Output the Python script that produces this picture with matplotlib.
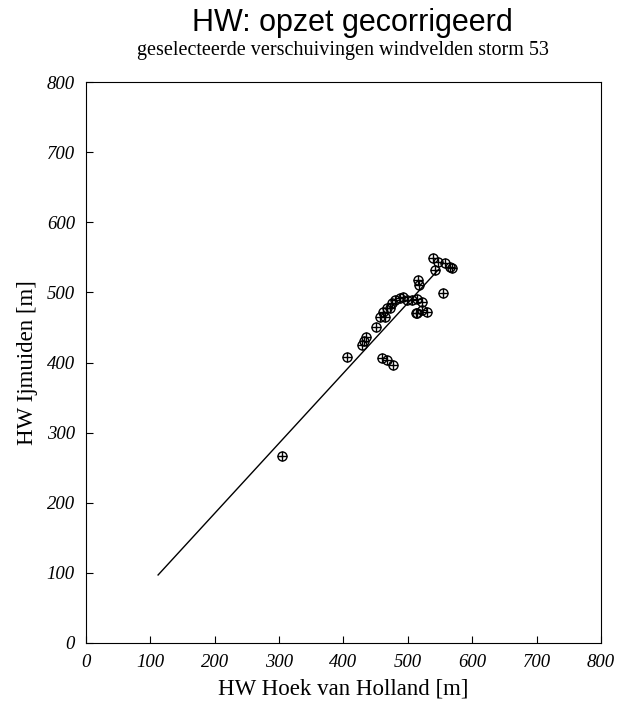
import matplotlib
matplotlib.use("Agg")
import matplotlib.pyplot as plt
import numpy as np

# HW Hoek van Holland vs HW IJmuiden, storm 53
hvh = [305, 405, 428, 432, 435, 450, 456, 461, 465, 467, 472, 475, 480, 488,
       492, 498, 506, 514, 522, 512, 514, 522, 530, 515, 517, 539, 547, 557,
       565, 542, 568, 554, 460, 467, 477]
ijm = [266, 408, 425, 431, 437, 450, 465, 472, 465, 478, 478, 485, 489, 492,
       494, 489, 489, 491, 486, 470, 471, 475, 472, 518, 511, 549, 543, 542,
       536, 532, 535, 499, 407, 404, 397]

fit_x = [112, 548]
fit_y = [97, 533]

serif = ["Liberation Serif", "DejaVu Serif"]

fig = plt.figure(figsize=(6.29, 7.09), dpi=100)
ax = fig.add_axes([0.1367, 0.0931, 0.8188, 0.7912])

ax.plot(fit_x, fit_y, color="black", lw=1.0)
ax.plot(hvh, ijm, ls="none", marker="o", ms=6.5, mfc="none", mec="black", mew=1.0)
ax.plot(hvh, ijm, ls="none", marker="+", ms=6.5, color="black", mew=1.0)

ax.set_xlim(0, 800)
ax.set_ylim(0, 800)
ax.set_xticks(np.arange(0, 801, 100))
ax.set_yticks(np.arange(0, 801, 100))
ax.tick_params(direction="in", length=5, top=False, right=False, labelsize=13.5, pad=8)
for lab in ax.get_xticklabels() + ax.get_yticklabels():
    lab.set_family(serif)
    lab.set_style("italic")

ax.set_xlabel("HW Hoek van Holland [m]", family=serif, fontsize=16.5, labelpad=5)
ax.set_ylabel("HW Ijmuiden [m]", family=serif, fontsize=16.5, labelpad=6)

fig.text(0.56, 0.967, "HW: opzet gecorrigeerd", ha="center", va="center",
         family=["Liberation Sans", "DejaVu Sans"], fontsize=22)
fig.text(0.545, 0.929, "geselecteerde verschuivingen windvelden storm 53",
         ha="center", va="center", family=serif, fontsize=14.5)

plt.savefig("out.png", dpi=100)
